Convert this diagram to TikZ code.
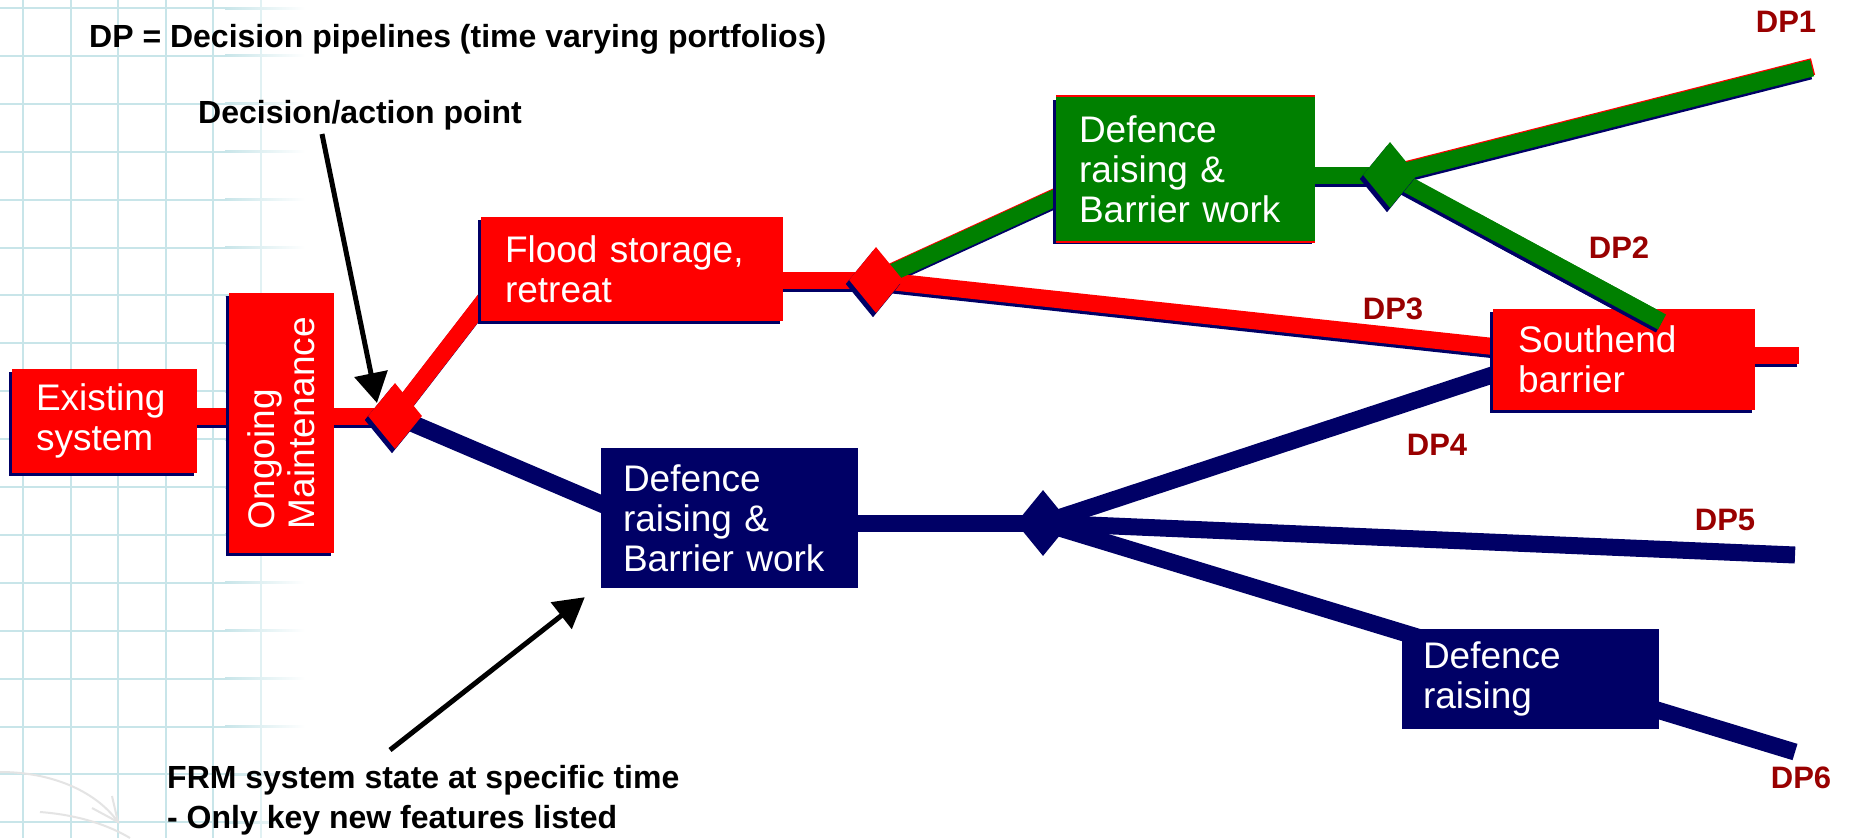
\documentclass[tikz,border=0pt]{standalone}
\usepackage{fontspec}
\setmainfont{Liberation Sans}
\usetikzlibrary{shapes.geometric,arrows.meta,calc}
\definecolor{fred}{RGB}{255,0,0}
\definecolor{fnavy}{RGB}{0,0,102}
\definecolor{fgreen}{RGB}{0,128,0}
\definecolor{dpred}{RGB}{153,0,0}
\definecolor{gridc}{RGB}{200,229,233}
\definecolor{faintc}{RGB}{228,228,228}
\pgfdeclarelayer{grid}
\pgfdeclarelayer{lshadow}
\pgfdeclarelayer{lines}
\pgfdeclarelayer{bshadow}
\pgfdeclarelayer{top}
\pgfsetlayers{grid,lshadow,lines,bshadow,main,top}
\begin{document}
\begin{tikzpicture}[x=1pt,y=-1pt,
  boxtext/.style={rectangle, inner sep=0pt, align=left, text=white,
    font=\fontsize{37}{40}\selectfont},
  diam/.style={diamond, inner sep=0pt, minimum width=54pt, minimum height=66pt},
  pipe/.style={line width=17pt, line cap=butt},
  redpipe/.style={pipe, draw=fred},
  greenpipe/.style={pipe, draw=fgreen},
  navypipe/.style={pipe, draw=fnavy},
  dplabel/.style={font=\bfseries\fontsize{31}{31}\selectfont, text=dpred, inner sep=0pt},
  notetext/.style={font=\bfseries\fontsize{32}{40}\selectfont, inner sep=0pt},
  pointer/.style={draw=black, line width=5pt, -{Triangle[width=33pt,length=30pt]}}
]
\useasboundingbox (0,0) rectangle (1851,838);

% background grid
\begin{pgfonlayer}{grid}
\fill[white] (0,0) rectangle (1851,838);
\foreach \k in {0,...,4} \draw[gridc, line width=2pt] ({23+47.6*\k},0) -- ({23+47.6*\k},838);
\draw[gridc!55, line width=2pt] (261,0) -- (261,838);
\foreach \k in {0,...,17} {
  \fill[gridc] (0,{8+47.9*\k-1}) rectangle (225,{8+47.9*\k+1});
  \shade[left color=gridc,right color=white] (225,{8+47.9*\k-1}) rectangle (305,{8+47.9*\k+1});
}
\draw[faintc, line width=2pt] (0,772) .. controls (50,772) and (95,790) .. (118,822);
\draw[faintc, line width=2pt] (92,808) -- (118,822) -- (112,796);
\draw[faintc, line width=2pt] (40,812) .. controls (80,815) and (110,826) .. (130,838);
\end{pgfonlayer}

% boxes
\node[boxtext, fill=fred, minimum width=185pt, minimum height=104pt, text width=137pt] (exist) at (104.5,421) {Existing\\system};
\node[boxtext, fill=fred, rotate=90, minimum width=260pt, minimum height=105pt, text width=212pt] (ongoing) at (281.5,423) {Ongoing\\Maintenance};
\node[boxtext, fill=fred, minimum width=302pt, minimum height=104pt, text width=254pt] (flood) at (632,269) {Flood storage,\\retreat};
\node[boxtext, fill=fgreen, minimum width=259pt, minimum height=144pt, text width=213pt] (greenbox) at (1185.5,169) {Defence\\raising \&\\Barrier work};
\node[boxtext, fill=fnavy, minimum width=257pt, minimum height=140pt, text width=213pt] (navyone) at (729.5,518) {Defence\\raising \&\\Barrier work};
\node[boxtext, fill=fred, minimum width=262pt, minimum height=101pt, text width=212pt] (southend) at (1624,359.5) {Southend\\barrier};
\node[boxtext, fill=fnavy, minimum width=257pt, minimum height=100pt, text width=215pt] (navytwo) at (1530.5,679) {Defence\\raising};

% decision points
\node[diam, fill=fred] (d1) at (395,416) {};
\node[diam, fill=fred] (d2) at (876,280) {};
\node[diam, fill=fgreen] (d3) at (1390,175) {};
\node[diam, fill=fnavy] (d4) at (1043,523) {};

% texts
\node[notetext, anchor=base west] (title) at (89,47) {DP = Decision pipelines (time varying portfolios)};
\node[notetext, anchor=base west] (decpt) at (198,123) {Decision/action point};
\node[notetext, anchor=north west, align=left] (frm) at (167,765) {FRM system state at specific time\\- Only key new features listed};

\node[dplabel] (lone) at (1786,22) {DP1};
\node[dplabel] (ltwo) at (1619,248) {DP2};
\node[dplabel] (lthree) at (1393,309) {DP3};
\node[dplabel] (lfour) at (1437,445) {DP4};
\node[dplabel] (lfive) at (1725,520) {DP5};
\node[dplabel] (lsix) at (1801,778) {DP6};

% free ends
\coordinate (dponeend) at (1812,68);
\coordinate (dptwoend) at (1662,322);
\coordinate (dpthreeend) at (1799,355);
\coordinate (dpfiveend) at (1795,555);
\coordinate (dpsixend) at (1795,752);
\coordinate (aonetail) at ($(decpt.base west)+(124,11)$);
\coordinate (aonetip) at ($(d1.center)+(-18,-13)$);
\coordinate (atwotail) at ($(frm.north west)+(223,-15)$);
\coordinate (atwotip) at ($(navyone.south west)+(-16,9)$);

% line shadows
\begin{pgfonlayer}{lshadow}
\begin{scope}[transform canvas={shift={(-2pt,-3pt)}}]
\draw[pipe, draw=fnavy] (exist.center |- d1.center) -- (d1.center);
\draw[pipe, draw=fnavy] (d1.center) -- ($(flood.south west)+(19,-41)$);
\draw[pipe, draw=fnavy] (flood.center |- d2.center) -- (d2.center);
\draw[pipe, draw=fnavy] (d2.center) -- ($(southend.west)+(10,-12)$);
\draw[pipe, draw=fnavy] (southend.center |- dpthreeend) -- (dpthreeend);
\draw[pipe, draw=fnavy] (d2.center) -- ($(greenbox.south west)+(14,-50)$);
\draw[pipe, draw=fnavy] (greenbox.center |- d3.center) -- (d3.center);
\draw[pipe, draw=fnavy] (d3.center) -- (dponeend);
\draw[pipe, draw=fnavy] (d3.center) -- (dptwoend);
\end{scope}
\begin{scope}[transform canvas={shift={(1pt,1.5pt)}}]
\draw[pipe, draw=fred] (d2.center) -- ($(greenbox.south west)+(14,-50)$);
\draw[pipe, draw=fred] (d3.center) -- (dponeend);
\end{scope}
\end{pgfonlayer}

% pipelines
\begin{pgfonlayer}{lines}
\draw[redpipe] (exist.center |- d1.center) -- (d1.center);
\draw[redpipe] (d1.center) -- ($(flood.south west)+(19,-41)$);
\draw[redpipe] (flood.center |- d2.center) -- (d2.center);
\draw[redpipe] (d2.center) -- ($(southend.west)+(10,-12)$);
\draw[redpipe] (southend.center |- dpthreeend) -- (dpthreeend);
\draw[greenpipe] (d2.center) -- ($(greenbox.south west)+(14,-50)$);
\draw[greenpipe] (greenbox.center |- d3.center) -- (d3.center);
\draw[greenpipe] (d3.center) -- (dponeend);
\draw[greenpipe] (d3.center) -- (dptwoend);
\draw[navypipe] (d1.center) -- ($(navyone.west)+(10,-10)$);
\draw[navypipe] (navyone.center |- d4.center) -- (d4.center);
\draw[navypipe] (d4.center) -- ($(southend.west)+(7,13)$);
\draw[navypipe] (d4.center) -- (dpfiveend);
\draw[navypipe] (d4.center) -- (dpsixend);
\end{pgfonlayer}

% box and diamond shadows
\begin{pgfonlayer}{bshadow}
\foreach \n in {exist,ongoing,flood,greenbox,southend}
  \fill[fnavy] ($(\n.south west)+(-3,3)$) rectangle ($(\n.north east)+(-3,3)$);
\fill[fred] ($(greenbox.south west)+(0,1.5)$) rectangle ($(greenbox.north east)+(0,-1.5)$);
\foreach \n in {d1,d2,d3}
  \fill[fnavy] ($(\n.north)+(-3,4)$) -- ($(\n.east)+(-3,4)$) -- ($(\n.south)+(-3,4)$) -- ($(\n.west)+(-3,4)$) -- cycle;
\end{pgfonlayer}

% DP2 end over the Southend box, and pointers
\begin{pgfonlayer}{top}
\begin{scope}[transform canvas={shift={(-2pt,-3pt)}}]
\draw[pipe, draw=fnavy] ($(d3.center)!0.4!(dptwoend)$) -- (dptwoend);
\end{scope}
\draw[greenpipe] ($(d3.center)!0.3!(dptwoend)$) -- (dptwoend);
\draw[pointer] (aonetail) -- (aonetip);
\draw[pointer] (atwotail) -- (atwotip);
\end{pgfonlayer}
\end{tikzpicture}
\end{document}
